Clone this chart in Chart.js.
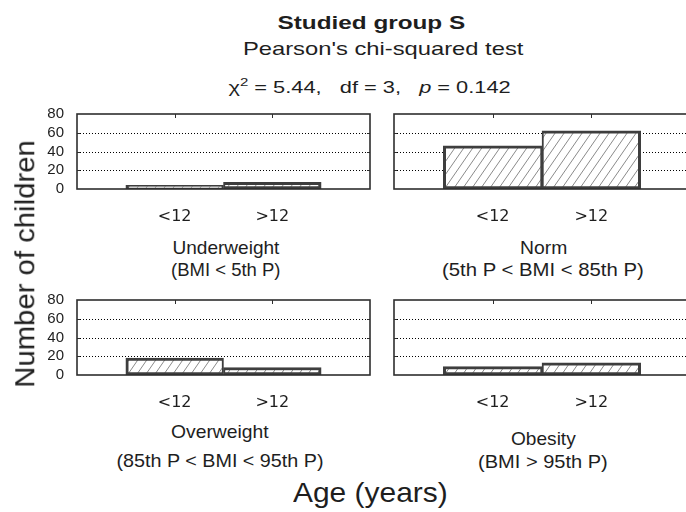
<!DOCTYPE html>
<html>
<head>
<meta charset="utf-8">
<script src="https://cdn.jsdelivr.net/npm/chart.js@4.4.0/dist/chart.umd.min.js"></script>
<style>
  html, body { margin: 0; padding: 0; background: #fff; overflow: hidden; }
  #stage { position: relative; width: 686px; height: 512px; overflow: hidden;
           font-family: 'Liberation Sans', Arial, sans-serif; color: #1e1e1e; }
  .panel { position: absolute; }
  .txt { position: absolute; white-space: nowrap; line-height: 1; }
</style>
</head>
<body>
<div id="stage"></div>
<script>
// data
const ageGroups = ['<12', '>12'];
const bmiGroups = ['Underweight', 'Norm', 'Overweight', 'Obesity'];
const bmiRanges = ['(BMI < 5th P)', '(5th P < BMI < 85th P)', '(85th P < BMI < 95th P)', '(BMI > 95th P)'];
const under12 = [4, 46, 18, 9];
const over12 = [7, 62, 8, 13];
const yTicks = [0, 20, 40, 60, 80];

const stage = document.getElementById('stage');

// where each small panel goes (left, top, canvas width, y axis width, right padding)
const panels = [
  { left: 0,   top: 100, width: 380, yWidth: 77, padRight: 5, showY: true },
  { left: 380, top: 100, width: 320, yWidth: 14, padRight: 8, showY: false },
  { left: 0,   top: 286, width: 380, yWidth: 77, padRight: 5, showY: true },
  { left: 380, top: 286, width: 320, yWidth: 14, padRight: 8, showY: false }
];

function hatchPattern() {
  const w = 9, h = 13;
  const c = document.createElement('canvas');
  c.width = w; c.height = h;
  const g = c.getContext('2d');
  g.fillStyle = '#fff';
  g.fillRect(0, 0, w, h);
  g.strokeStyle = '#8a8a8a';
  g.lineWidth = 1;
  g.beginPath();
  g.moveTo(0, h); g.lineTo(w, 0);
  g.moveTo(-w, h); g.lineTo(0, 0);
  g.moveTo(w, h); g.lineTo(2 * w, 0);
  g.stroke();
  return g.createPattern(c, 'repeat');
}

const frame = {
  id: 'frame',
  beforeDatasetsDraw(chart) {
    const { ctx, chartArea: a, scales: { y } } = chart;
    ctx.save();
    ctx.strokeStyle = '#000';
    ctx.lineWidth = 1;
    ctx.setLineDash([1, 2]);
    yTicks.slice(1, -1).forEach(v => {
      const py = Math.round(y.getPixelForValue(v)) + 0.5;
      ctx.beginPath();
      ctx.moveTo(a.left, py);
      ctx.lineTo(a.right, py);
      ctx.stroke();
    });
    ctx.restore();
  },
  afterDatasetsDraw(chart) {
    const { ctx, chartArea: a, scales: { x, y } } = chart;
    ctx.save();
    ctx.strokeStyle = '#2e2e2e';
    ctx.lineWidth = 1.6;
    ctx.strokeRect(a.left, a.top, a.right - a.left, a.bottom - a.top);
    ctx.lineWidth = 1;
    ctx.beginPath();
    [1, 2].forEach(i => {
      const px = Math.round(x.getPixelForValue(i)) + 0.5;
      ctx.moveTo(px, a.top); ctx.lineTo(px, a.top + 4);
    });
    yTicks.slice(1, -1).forEach(v => {
      const py = Math.round(y.getPixelForValue(v)) + 0.5;
      ctx.moveTo(a.left, py); ctx.lineTo(a.left + 3, py);
      ctx.moveTo(a.right, py); ctx.lineTo(a.right - 3, py);
    });
    ctx.stroke();
    ctx.restore();
  }
};

const fill = hatchPattern();

panels.forEach((p, i) => {
  const wrap = document.createElement('div');
  wrap.className = 'panel';
  wrap.style.left = p.left + 'px';
  wrap.style.top = p.top + 'px';
  const cv = document.createElement('canvas');
  cv.width = p.width; cv.height = 130;
  cv.style.width = p.width + 'px'; cv.style.height = '130px';
  wrap.appendChild(cv);
  stage.appendChild(wrap);

  new Chart(cv, {
    type: 'bar',
    data: {
      labels: ['', ...ageGroups, ''],
      datasets: [{
        data: [null, under12[i], over12[i], null],
        backgroundColor: fill,
        borderColor: '#3e3e3e',
        borderWidth: c => c.dataIndex === 1
          ? { top: 3, bottom: 3, left: 3, right: 2 }
          : { top: 3, bottom: 3, left: 2, right: 3 },
        borderSkipped: false,
        barPercentage: 1,
        categoryPercentage: 1
      }]
    },
    options: {
      responsive: false,
      animation: false,
      events: [],
      layout: { padding: { top: 14, right: p.padRight, left: 0, bottom: 0 } },
      plugins: { legend: { display: false }, tooltip: { enabled: false } },
      scales: {
        x: {
          offset: false,
          grid: { display: false },
          border: { display: false },
          ticks: {
            autoSkip: false, maxRotation: 0, minRotation: 0, padding: 10,
            color: '#1e1e1e', font: { family: "'DejaVu Sans', sans-serif", size: 16 }
          },
          afterFit: s => { s.height = 41; }
        },
        y: {
          min: 0, max: 80,
          grid: { display: false },
          border: { display: false },
          ticks: {
            display: p.showY, stepSize: 20, padding: 5, autoSkip: false,
            color: '#1e1e1e', font: { family: "'Liberation Sans', Arial, sans-serif", size: 15 }
          },
          afterFit: s => { s.width = p.yWidth; }
        }
      }
    },
    plugins: [frame]
  });
});

// text, stretched to the widths seen in the picture
function addText(html, cx, cy, size, width, opts = {}) {
  const d = document.createElement('div');
  d.className = 'txt';
  d.innerHTML = html;
  d.style.fontSize = size + 'px';
  if (opts.bold) d.style.fontWeight = 'bold';
  stage.appendChild(d);
  const w = d.offsetWidth, h = d.offsetHeight;
  const sx = width ? width / w : 1;
  d.style.left = (cx - w / 2) + 'px';
  d.style.top = (cy - h / 2) + 'px';
  d.style.transform = (opts.rotate ? 'rotate(-90deg) ' : '') + 'scaleX(' + sx + ')';
}

const esc = s => s.replace(/</g, '&lt;').replace(/>/g, '&gt;');

addText('Studied group S', 371, 22, 19, 188, { bold: true });
addText("Pearson's chi-squared test", 383, 48.5, 19, 280);
addText('&chi;<span style="font-size:11px;position:relative;top:-7px">2</span> = 5.44,&nbsp;&nbsp; df = 3,&nbsp;&nbsp; <i>p</i> = 0.142', 369, 88, 16, 282);

const catPos = [
  { x: 226, y1: 248, y2: 270, w1: 107, w2: 110 },
  { x: 543, y1: 248, y2: 270, w1: 47, w2: 202 },
  { x: 220, y1: 432, y2: 461.5, w1: 98, w2: 207 },
  { x: 543, y1: 439, y2: 462, w1: 65, w2: 130 }
];
bmiGroups.forEach((g, i) => {
  const c = catPos[i];
  addText(esc(g), c.x, c.y1, 18.5, c.w1);
  addText(esc(bmiRanges[i]), c.x, c.y2, 18.5, c.w2);
});

addText('Age (years)', 370.5, 492.5, 28, 155);
addText('Number of children', 25, 264, 28, 248, { rotate: true });
</script>
</body>
</html>
